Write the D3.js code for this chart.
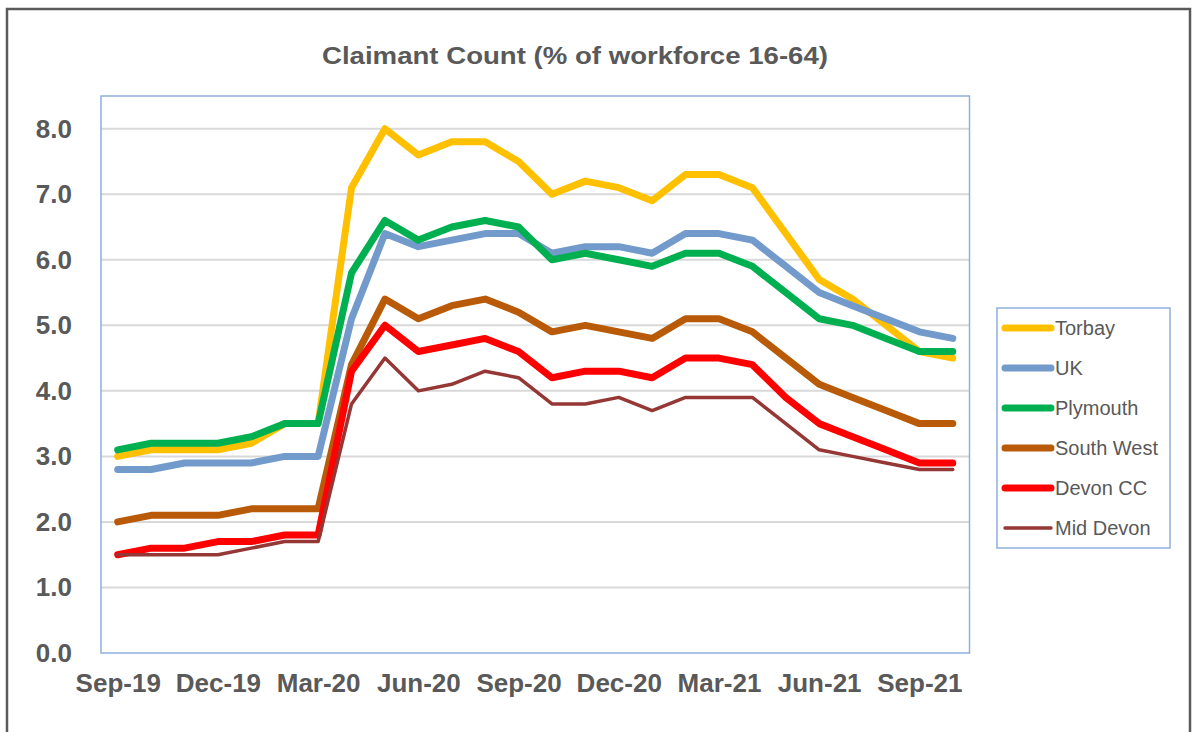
<!DOCTYPE html>
<html>
<head>
<meta charset="utf-8">
<script src="https://cdn.jsdelivr.net/npm/d3@7"></script>
<style>
  body { margin: 0; background: #fff; }
  svg { display: block; }
</style>
</head>
<body>
<div id="chart"></div>
<script>
// Monthly values, Sep-19 .. Oct-21
var months = ['Sep-19', 'Oct-19', 'Nov-19', 'Dec-19', 'Jan-20', 'Feb-20', 'Mar-20', 'Apr-20', 'May-20',
  'Jun-20', 'Jul-20', 'Aug-20', 'Sep-20', 'Oct-20', 'Nov-20', 'Dec-20', 'Jan-21', 'Feb-21', 'Mar-21',
  'Apr-21', 'May-21', 'Jun-21', 'Jul-21', 'Aug-21', 'Sep-21', 'Oct-21'];
var tickMonths = ['Sep-19', 'Dec-19', 'Mar-20', 'Jun-20', 'Sep-20', 'Dec-20', 'Mar-21', 'Jun-21', 'Sep-21'];
var yTicks = [0, 1, 2, 3, 4, 5, 6, 7, 8];

var torbay    = [3.0, 3.1, 3.1, 3.1, 3.2, 3.5, 3.5, 7.1, 8.0, 7.6, 7.8, 7.8, 7.5, 7.0, 7.2, 7.1, 6.9, 7.3, 7.3, 7.1, 6.4, 5.7, 5.4, 5.0, 4.6, 4.5];
var uk        = [2.8, 2.8, 2.9, 2.9, 2.9, 3.0, 3.0, 5.1, 6.4, 6.2, 6.3, 6.4, 6.4, 6.1, 6.2, 6.2, 6.1, 6.4, 6.4, 6.3, 5.9, 5.5, 5.3, 5.1, 4.9, 4.8];
var plymouth  = [3.1, 3.2, 3.2, 3.2, 3.3, 3.5, 3.5, 5.8, 6.6, 6.3, 6.5, 6.6, 6.5, 6.0, 6.1, 6.0, 5.9, 6.1, 6.1, 5.9, 5.5, 5.1, 5.0, 4.8, 4.6, 4.6];
var southWest = [2.0, 2.1, 2.1, 2.1, 2.2, 2.2, 2.2, 4.4, 5.4, 5.1, 5.3, 5.4, 5.2, 4.9, 5.0, 4.9, 4.8, 5.1, 5.1, 4.9, 4.5, 4.1, 3.9, 3.7, 3.5, 3.5];
var devonCC   = [1.5, 1.6, 1.6, 1.7, 1.7, 1.8, 1.8, 4.3, 5.0, 4.6, 4.7, 4.8, 4.6, 4.2, 4.3, 4.3, 4.2, 4.5, 4.5, 4.4, 3.9, 3.5, 3.3, 3.1, 2.9, 2.9];
var midDevon  = [1.5, 1.5, 1.5, 1.5, 1.6, 1.7, 1.7, 3.8, 4.5, 4.0, 4.1, 4.3, 4.2, 3.8, 3.8, 3.9, 3.7, 3.9, 3.9, 3.9, 3.5, 3.1, 3.0, 2.9, 2.8, 2.8];

var seriesNames = ['Torbay', 'UK', 'Plymouth', 'South West', 'Devon CC', 'Mid Devon'];
var seriesValues = [torbay, uk, plymouth, southWest, devonCC, midDevon];
var seriesColors = ['#FFC000', '#729ACA', '#00B050', '#B85A07', '#FF0000', '#953735'];
var seriesWidths = [7, 7, 7, 7, 7, 3.5];

var width = 1195;
var height = 732;
var textColor = '#595959';

var svg = d3.select('#chart').append('svg')
  .attr('width', width)
  .attr('height', height);

// outer chart frame
svg.append('rect')
  .attr('x', 7).attr('y', 9)
  .attr('width', 1183).attr('height', 740)
  .attr('fill', '#fff')
  .attr('stroke', '#5a5a5a')
  .attr('stroke-width', 2.5);

svg.append('text')
  .attr('x', 575).attr('y', 64)
  .attr('text-anchor', 'middle')
  .attr('textLength', 506)
  .attr('lengthAdjust', 'spacingAndGlyphs')
  .style('font-family', 'Liberation Sans, Arial, sans-serif')
  .style('font-weight', 'bold')
  .style('font-size', '24px')
  .style('fill', textColor)
  .text('Claimant Count (% of workforce 16-64)');

var plot = { left: 101, right: 969.5, top: 96, bottom: 653 };

var x = d3.scalePoint()
  .domain(months)
  .range([plot.left, plot.right])
  .padding(0.5);

var y = d3.scaleLinear()
  .domain([0, 8])
  .range([plot.bottom, 128.7]);

// gridlines
svg.append('g')
  .selectAll('line')
  .data(yTicks.slice(1))
  .enter().append('line')
  .attr('x1', plot.left).attr('x2', plot.right)
  .attr('y1', function(d) { return y(d); })
  .attr('y2', function(d) { return y(d); })
  .attr('stroke', '#D9D9D9')
  .attr('stroke-width', 2);

// plot border
svg.append('rect')
  .attr('x', plot.left).attr('y', plot.top)
  .attr('width', plot.right - plot.left)
  .attr('height', plot.bottom - plot.top)
  .attr('fill', 'none')
  .attr('stroke', '#8FB0DC')
  .attr('stroke-width', 1.5);

// axes
var yAxis = d3.axisLeft(y)
  .tickValues(yTicks)
  .tickSize(0)
  .tickPadding(29)
  .tickFormat(d3.format('.1f'));

var gy = svg.append('g')
  .attr('transform', 'translate(' + plot.left + ',0)')
  .call(yAxis);

var xAxis = d3.axisBottom(x)
  .tickValues(tickMonths)
  .tickSize(0)
  .tickPadding(21);

var gx = svg.append('g')
  .attr('transform', 'translate(0,' + plot.bottom + ')')
  .call(xAxis);

[gx, gy].forEach(function(g) {
  g.select('.domain').remove();
  g.selectAll('text')
    .style('font-family', 'Liberation Sans, Arial, sans-serif')
    .style('font-weight', 'bold')
    .style('font-size', '26px')
    .style('fill', textColor);
});

// series lines
var line = d3.line()
  .x(function(d, i) { return x(months[i]); })
  .y(function(d) { return y(d); });

svg.append('g')
  .selectAll('path')
  .data(seriesValues)
  .enter().append('path')
  .attr('d', line)
  .attr('fill', 'none')
  .attr('stroke', function(d, i) { return seriesColors[i]; })
  .attr('stroke-width', function(d, i) { return seriesWidths[i]; })
  .attr('stroke-linejoin', 'round')
  .attr('stroke-linecap', 'round');

// legend
var legend = svg.append('g');

legend.append('rect')
  .attr('x', 997).attr('y', 308)
  .attr('width', 173).attr('height', 240)
  .attr('fill', '#fff')
  .attr('stroke', '#8FB0DC')
  .attr('stroke-width', 1.5);

var item = legend.selectAll('g.item')
  .data(seriesNames)
  .enter().append('g')
  .attr('class', 'item')
  .attr('transform', function(d, i) { return 'translate(0,' + (328 + i * 40) + ')'; });

item.append('line')
  .attr('x1', 1005).attr('x2', 1051)
  .attr('stroke', function(d, i) { return seriesColors[i]; })
  .attr('stroke-width', function(d, i) { return seriesWidths[i]; })
  .attr('stroke-linecap', 'round');

item.append('text')
  .attr('x', 1055)
  .attr('dy', '0.35em')
  .style('font-family', 'Liberation Sans, Arial, sans-serif')
  .style('font-size', '20px')
  .style('fill', textColor)
  .text(function(d) { return d; });
</script>
</body>
</html>
